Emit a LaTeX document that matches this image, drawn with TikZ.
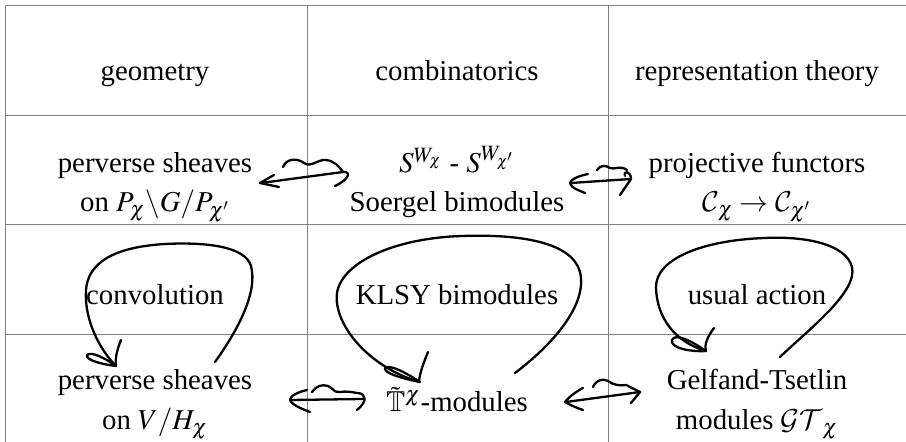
\documentclass[tikz,border=0pt]{standalone}
\usepackage{mathptmx}
\usepackage{amssymb}
\DeclareMathAlphabet{\mathcal}{OMS}{cmsy}{m}{n}
\usepackage{fontspec}
\setmainfont{Liberation Serif}
\tikzset{
  rule/.style={draw=gray, line width=0.5pt},
  cell/.style={anchor=base, font=\fontsize{14.4}{17}\selectfont},
  hand/.style={line width=1.15pt, line cap=round, line join=round},
}
\begin{document}
\begin{tikzpicture}[x=0.5pt, y=-0.5pt]
\useasboundingbox (0,0) rectangle (906,442);
% the table
\draw[rule] (5,6) -- (906,6);
\foreach \y in {116,225,335} \draw[rule] (5,\y) -- (906,\y);
\foreach \x in {5,307,608} \draw[rule] (\x,6) -- (\x,442);
% header
\node[cell] (geo) at (155,81) {geometry};
\node[cell] (comb) at (457,81) {combinatorics};
\node[cell] (rep) at (757,81) {representation theory};
% second row
\node[cell] (psP) at (155,173) {perverse sheaves};
\node[cell] (psPb) at (155,212) {on $P_\chi\backslash G/P_{\chi'}$};
\node[cell] (sW) at (457,173) {$S^{W_\chi}$ - $S^{W_{\chi'}}$};
\node[cell] (soe) at (457,212) {Soergel bimodules};
\node[cell] (proj) at (757,173) {projective functors};
\node[cell] (projb) at (757,212) {$\mathcal{C}_\chi\to\mathcal{C}_{\chi'}$};
% third row
\node[cell] (conv) at (155,305) {convolution};
\node[cell] (klsy) at (457,305) {KLSY bimodules};
\node[cell] (usual) at (757,305) {usual action};
% fourth row
\node[cell] (psV) at (155,390) {perverse sheaves};
\node[cell] (psVb) at (155,430) {on $V/H_\chi$};
\node[cell] (tmod) at (457,412) {$\tilde{\mathbb{T}}^\chi$-modules};
\node[cell] (gt) at (757,390) {Gelfand-Tsetlin};
\node[cell] (gtb) at (757,430) {modules $\mathcal{GT}_\chi$};
% hand drawn equivalences, second row
\draw[hand] (274,175) -- (260,183) -- (279,187);
\draw[hand] (261,183) -- (343,172) .. controls (351,171) and (350,179) .. (335,186);
\draw[hand] (283,167) .. controls (287,158) and (297,158) .. (304,163) .. controls (311,168) and (318,159) .. (326,160) .. controls (334,161) and (339,166) .. (343,172);
\draw[hand] (588,174) .. controls (578,176) and (570,180) .. (570,183) .. controls (571,188) and (578,190) .. (585,193);
\draw[hand] (571,183) -- (631,179) -- (620,195);
\draw[hand] (631,179) .. controls (631,171) and (623,170) .. (625,176);
\draw[hand] (597,170) .. controls (600,165) and (606,165) .. (610,168) .. controls (614,170) and (620,165) .. (627,170);
% hand drawn equivalences, fourth row
\draw[hand] (307,390) .. controls (298,392) and (290,396) .. (290,400) .. controls (292,405) and (302,409) .. (310,412);
\draw[hand] (291,400) -- (363,399);
\draw[hand] (358,393) .. controls (367,394) and (367,402) .. (357,410);
\draw[hand] (312,392) .. controls (316,386) and (322,384) .. (328,386) .. controls (333,388) and (334,393) .. (340,392) .. controls (346,391) and (352,392) .. (357,393);
\draw[hand] (583,388) .. controls (575,392) and (568,398) .. (565,402) .. controls (570,405) and (577,408) .. (583,410);
\draw[hand] (566,402) -- (640,392);
\draw[hand] (628,386) -- (640,392) -- (631,403);
\draw[hand] (593,387) .. controls (596,380) and (603,378) .. (608,381) .. controls (613,385) and (620,386) .. (627,385);
% hand drawn loops, third row
\draw[hand] (215,362) .. controls (238,330) and (258,292) .. (251,266) .. controls (245,246) and (205,242) .. (165,244) .. controls (115,247) and (88,262) .. (86,290) .. controls (84,320) and (100,350) .. (116,366);
\draw[hand] (121,340) .. controls (117,350) and (115,358) .. (116,366);
\draw[hand] (116,366) .. controls (105,358) and (91,351) .. (87,355) .. controls (86,360) and (100,364) .. (116,366);
\draw[hand] (515,373) .. controls (552,345) and (588,305) .. (580,272) .. controls (572,242) and (520,234) .. (462,236) .. controls (395,238) and (342,262) .. (337,293) .. controls (333,325) and (370,368) .. (420,382);
\draw[hand] (428,352) .. controls (424,362) and (420,372) .. (419,381);
\draw[hand] (420,382) .. controls (405,372) and (389,364) .. (385,368) .. controls (384,373) and (400,378) .. (420,382);
\draw[hand] (780,357) .. controls (808,330) and (858,292) .. (852,267) .. controls (846,244) and (805,236) .. (765,238) .. controls (705,240) and (655,258) .. (656,288) .. controls (657,318) and (675,342) .. (706,351);
\draw[hand] (706,351) .. controls (690,340) and (675,333) .. (672,340) .. controls (670,348) and (690,352) .. (706,351);
\draw[hand] (714,328) .. controls (708,336) and (704,344) .. (706,351);
\end{tikzpicture}
\end{document}
